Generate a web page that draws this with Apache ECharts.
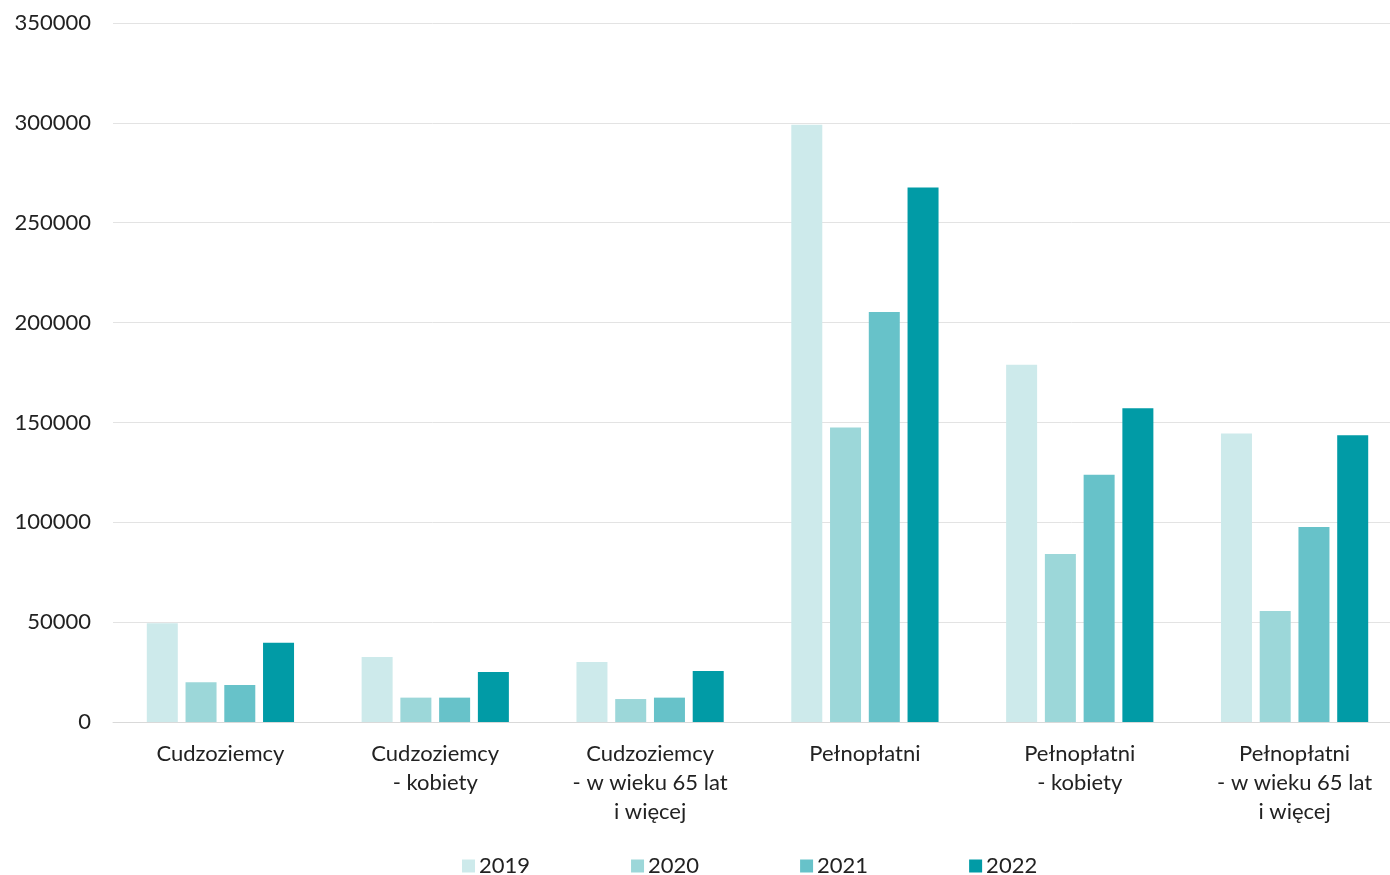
<!DOCTYPE html>
<html>
<head>
<meta charset="utf-8">
<script src="https://cdn.jsdelivr.net/npm/echarts@6/dist/echarts.min.js"></script>
<style>
html,body{margin:0;padding:0;background:#fff;}
#chart{width:1390px;height:875px;}
</style>
</head>
<body>
<div id="chart"></div>
<script>
const categories = [
  "Cudzoziemcy",
  "Cudzoziemcy\n- kobiety",
  "Cudzoziemcy\n- w wieku 65 lat\ni więcej",
  "Pełnopłatni",
  "Pełnopłatni\n- kobiety",
  "Pełnopłatni\n- w wieku 65 lat\ni więcej"
];
const seriesNames = ["2019", "2020", "2021", "2022"];
const values2019 = [49500, 32500, 30000, 299000, 178900, 144400];
const values2020 = [19900, 12200, 11500, 147400, 84100, 55600];
const values2021 = [18500, 12200, 12200, 205300, 123800, 97600];
const values2022 = [39700, 25000, 25500, 267600, 157100, 143600];
const colors = ["#cdeaeb", "#9cd7d9", "#67c2c9", "#019ba6"];
const yTicks = { min: 0, max: 350000, interval: 50000 };

const allValues = [values2019, values2020, values2021, values2022];
const font = "Lato, 'Noto Sans', sans-serif";

const chart = echarts.init(document.getElementById('chart'));
chart.setOption({
  animation: false,
  textStyle: { fontFamily: font },
  grid: { left: 113, width: 1289, top: 23, bottom: 153, containLabel: false, outerBoundsMode: 'none' },
  legend: {
    top: 850,
    left: 457,
    itemWidth: 13,
    itemHeight: 13,
    itemGap: 101,
    icon: 'rect',
    textStyle: { fontSize: 22, color: '#222', fontFamily: font, padding: [0, 0, 0, -1] },
    data: seriesNames
  },
  xAxis: {
    type: 'category',
    data: categories,
    axisTick: { show: false },
    axisLine: { lineStyle: { color: '#d9d9d9', width: 1 } },
    axisLabel: { fontSize: 22, color: '#222', lineHeight: 29, margin: 17, interval: 0, fontFamily: font }
  },
  yAxis: {
    type: 'value',
    min: yTicks.min,
    max: yTicks.max,
    interval: yTicks.interval,
    axisLine: { show: false },
    axisTick: { show: false },
    splitLine: { lineStyle: { color: '#e3e3e3', width: 1 } },
    axisLabel: { fontSize: 22, color: '#222', margin: 22, fontFamily: font, formatter: v => String(v) }
  },
  series: seriesNames.map((name, i) => ({
    name: name,
    type: 'bar',
    data: allValues[i],
    barWidth: 31,
    barGap: '25%',
    itemStyle: { color: colors[i] }
  }))
});
</script>
</body>
</html>
